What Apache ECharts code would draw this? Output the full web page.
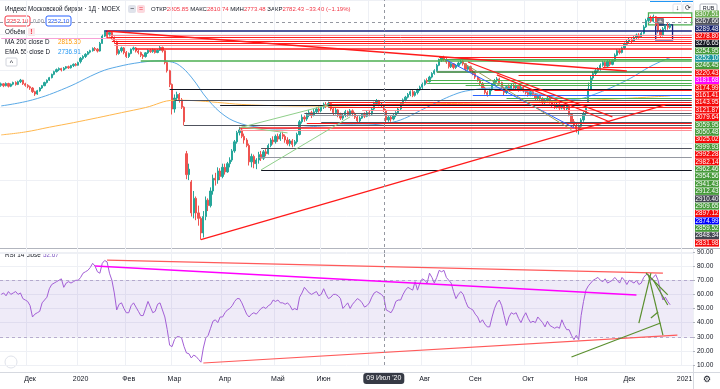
<!DOCTYPE html>
<html><head><meta charset="utf-8">
<script src="https://cdn.jsdelivr.net/npm/echarts@6/dist/echarts.min.js"></script>
<style>html,body{margin:0;padding:0;background:#fff}#c{width:720px;height:389px}</style>
</head><body><div id="c"></div>
<script>
// ---------- DATA ----------
const holidays = ['2019-11-04','2019-12-31','2020-01-01','2020-01-02','2020-01-07','2020-02-24','2020-03-09','2020-05-01','2020-05-11','2020-06-12','2020-06-24','2020-07-01','2020-11-04','2021-01-01'];
const monthNames = ['Янв','Фев','Мар','Апр','Май','Июн','Июл','Авг','Сен','Окт','Ноя','Дек'];
// candles: [open, close, low, high]
const nov19 = [[2920,2928,2912,2935],[2928,2918,2910,2932],[2918,2930,2914,2936],[2930,2915,2908,2934],[2915,2926,2910,2930],[2926,2935,2920,2940],[2935,2925,2918,2942],[2925,2940,2921,2945],[2940,2948,2932,2955],[2948,2928,2922,2950],[2928,2920,2912,2934],[2920,2912,2904,2926]];
const dec19 = [[2912,2905,2895,2918],[2905,2885,2878,2910],[2885,2872,2862,2890],[2872,2890,2868,2895],[2890,2905,2885,2910],[2905,2918,2900,2922],[2918,2935,2915,2940],[2935,2948,2930,2952],[2948,2962,2944,2966],[2962,2980,2958,2984],[2980,2995,2975,3000],[2995,3006,2990,3012],[3006,3012,2998,3018],[3012,3004,2996,3016],[3004,3014,3000,3020],[3014,3022,3008,3026],[3022,3016,3010,3028],[3016,3028,3012,3032],[3028,3035,3020,3040],[3035,3030,3024,3042],[3030,3045,3028,3050]];
const jan20 = [[3050,3068,3040,3075],[3068,3078,3060,3085],[3078,3090,3070,3096],[3090,3102,3085,3108],[3102,3110,3095,3115],[3110,3122,3105,3128],[3122,3118,3108,3130],[3118,3108,3100,3124],[3108,3150,3105,3158],[3150,3190,3148,3198],[3190,3212,3185,3222],[3212,3200,3190,3220],[3200,3208,3188,3215],[3208,3182,3172,3210],[3182,3160,3150,3188],[3160,3095,3085,3165],[3095,3110,3088,3118],[3110,3125,3100,3132],[3125,3100,3090,3130],[3100,3078,3070,3108]];
const feb20 = [[3078,3095,3070,3100],[3095,3118,3090,3122],[3118,3125,3110,3132],[3125,3108,3100,3130],[3108,3100,3090,3115],[3100,3085,3075,3105],[3085,3078,3065,3092],[3078,3098,3072,3102],[3098,3112,3092,3118],[3112,3105,3098,3120],[3105,3115,3098,3122],[3115,3100,3094,3120],[3100,3112,3096,3118],[3112,3128,3108,3135],[3128,3110,3100,3132],[3110,3045,3035,3112],[3045,3000,2990,3050],[3000,2925,2910,3005],[2925,2790,2760,2930]];
const mar20 = [[2790,2850,2770,2870],[2850,2870,2835,2885],[2870,2840,2825,2878],[2840,2800,2790,2850],[2800,2720,2700,2805],[2545,2430,2405,2560],[2430,2460,2400,2490],[2390,2220,2200,2400],[2220,2300,2190,2340],[2300,2220,2180,2310],[2220,2190,2150,2260],[2190,2110,2073,2200],[2110,2200,2085,2230],[2200,2290,2180,2310],[2290,2260,2230,2300],[2260,2340,2250,2360],[2340,2410,2320,2430],[2410,2400,2370,2440],[2400,2450,2380,2470],[2450,2420,2400,2465],[2420,2470,2410,2490]];
const apr20 = [[2470,2445,2430,2490],[2445,2490,2440,2500],[2490,2510,2470,2525],[2510,2560,2500,2570],[2560,2610,2550,2620],[2610,2660,2600,2670],[2660,2675,2645,2692],[2675,2640,2630,2685],[2640,2620,2600,2655],[2620,2590,2580,2630],[2590,2500,2480,2600],[2500,2530,2470,2545],[2530,2490,2465,2540],[2490,2510,2460,2520],[2510,2540,2490,2555],[2540,2520,2505,2560],[2520,2555,2510,2565],[2555,2545,2530,2570],[2545,2590,2540,2600],[2590,2620,2580,2630],[2620,2610,2595,2640],[2610,2640,2600,2650]];
const may20 = [[2640,2625,2610,2655],[2625,2650,2615,2662],[2650,2640,2625,2665],[2640,2620,2605,2650],[2620,2600,2590,2635],[2600,2615,2585,2625],[2615,2595,2580,2625],[2595,2610,2585,2620],[2610,2650,2600,2660],[2650,2720,2645,2730],[2720,2745,2710,2760],[2745,2735,2720,2755],[2735,2760,2725,2770],[2760,2770,2745,2785],[2770,2755,2740,2780],[2755,2775,2750,2790],[2775,2790,2765,2800],[2790,2780,2770,2805],[2780,2800,2772,2810]];
const jun20 = [[2800,2815,2790,2825],[2815,2805,2795,2828],[2805,2820,2798,2830],[2820,2790,2780,2825],[2790,2770,2755,2800],[2770,2785,2760,2795],[2785,2760,2745,2790],[2760,2740,2730,2770],[2740,2755,2730,2765],[2755,2775,2745,2785],[2775,2760,2748,2782],[2760,2780,2752,2790],[2780,2765,2750,2788],[2765,2745,2735,2772],[2745,2725,2712,2755],[2725,2740,2718,2750],[2740,2760,2735,2768],[2760,2750,2740,2772],[2750,2770,2745,2780],[2770,2762,2750,2785]];
const jul20 = [[2762,2790,2755,2798],[2790,2820,2785,2830],[2820,2835,2810,2845],[2835,2815,2805,2840],[2815,2815.83,2800,2828],[2805.85,2782.43,2773.48,2810.74],[2782,2730,2710,2790],[2730,2745,2720,2755],[2745,2735,2720,2752],[2735,2755,2728,2762],[2755,2770,2745,2778],[2770,2790,2762,2800],[2790,2820,2785,2828],[2820,2840,2812,2848],[2840,2855,2832,2862],[2855,2870,2848,2878],[2870,2885,2860,2892],[2885,2865,2855,2895],[2865,2880,2858,2888],[2880,2895,2870,2902],[2895,2910,2888,2918],[2910,2925,2900,2935]];
const aug20 = [[2925,2945,2918,2952],[2945,2940,2930,2958],[2940,2965,2935,2972],[2965,2985,2958,2992],[2985,3000,2978,3008],[3000,3030,2995,3038],[3030,3058,3025,3066],[3058,3072,3048,3080],[3072,3062,3052,3082],[3062,3048,3038,3070],[3048,3022,3012,3052],[3022,3038,3015,3045],[3038,3018,3008,3042],[3018,3028,3010,3036],[3028,3042,3022,3050],[3042,3052,3035,3060],[3052,3038,3028,3058],[3038,3008,2998,3042],[3008,3022,3000,3030],[3022,2998,2988,3028],[2998,2985,2975,3005]];
const sep20 = [[2985,2965,2955,2995],[2965,2950,2940,2972],[2950,2930,2920,2958],[2930,2905,2895,2938],[2905,2880,2870,2912],[2880,2870,2858,2890],[2870,2895,2862,2902],[2895,2925,2888,2932],[2925,2945,2918,2955],[2945,2955,2935,2965],[2955,2935,2925,2962],[2935,2905,2895,2940],[2905,2880,2865,2912],[2880,2912,2872,2920],[2912,2900,2890,2925],[2900,2920,2895,2930],[2920,2905,2895,2932],[2905,2915,2898,2925],[2915,2895,2885,2922],[2895,2910,2888,2918],[2910,2890,2880,2915],[2890,2880,2870,2898]];
const oct20 = [[2880,2870,2858,2890],[2870,2885,2860,2895],[2885,2870,2860,2895],[2870,2850,2838,2878],[2850,2860,2840,2870],[2860,2845,2832,2868],[2845,2825,2815,2855],[2825,2840,2818,2848],[2840,2850,2830,2862],[2850,2830,2820,2858],[2830,2810,2800,2838],[2810,2800,2790,2822],[2800,2815,2792,2825],[2815,2795,2785,2822],[2795,2808,2788,2815],[2808,2790,2780,2815],[2790,2805,2782,2812],[2805,2760,2750,2808],[2760,2720,2710,2765],[2720,2700,2685,2735],[2700,2680,2660,2715],[2680,2695,2650,2705]];
const nov20 = [[2695,2730,2685,2740],[2730,2765,2720,2775],[2765,2800,2755,2810],[2830,2900,2825,2935],[2900,2960,2895,2975],[2960,2985,2950,2995],[2985,3000,2975,3010],[3000,3010,2990,3020],[3010,3030,3000,3040],[3030,3045,3022,3055],[3045,3025,3015,3055],[3025,3050,3018,3058],[3050,3035,3025,3062],[3035,3055,3030,3065],[3055,3085,3050,3095],[3085,3110,3080,3118],[3110,3100,3090,3120],[3100,3125,3095,3132],[3125,3145,3118,3155],[3145,3160,3140,3170]];
const dec20 = [[3160,3172,3152,3180],[3172,3162,3152,3184],[3162,3182,3157,3190],[3182,3196,3174,3204],[3196,3186,3176,3206],[3186,3205,3180,3212],[3205,3240,3200,3250],[3240,3275,3235,3285],[3275,3290,3268,3300],[3290,3272,3262,3302],[3272,3296,3265,3308],[3296,3255,3245,3300],[3255,3220,3205,3262],[3220,3195,3185,3230],[3195,3230,3188,3240],[3230,3245,3220,3255],[3245,3238,3225,3262],[3238,3252.1,3230,3260]];
const rsiValues = [60,61,59,62,60,61,62,60,61,57,56,55, 52,44,46,47,48, 54,56,58, 64,67,68,69,70,71,65, 68,69,68,69,70,70,
 72,75,76,77,79,82,80,76,75, 82,84,83,75,70,61, 49,53,54,50,47,47, 52,54,51,48,45,45,50, 55,51,47,48,53,54,49,44,
 35,24,23,28,30,30,29,23, 18.5,18,15,17,16,14,12,22, 29,31,36,41,42,40,44,44,
 47,49,50,52,55,57,57,54,50,46, 44,46,47,46,48,50,51,50,52,53, 56,55,56,54,54,53,54,52,49,50,49,
 58,61,65,63,61,60,61,62,59,60, 64,60,57,58,60,60,59,57,50,52,54,50,53,55,57, 56,54,51,52,54,
 58,61,62,61,60, 58,49,48,47,50, 55,56,56,60,63, 65,64,63,69,63,68,71,
 70,68,75,72,68,72, 77,76,77,72,70,68,62, 57,60,62,60,55,51,50,49,
 46,44,40,42,39,37,37, 44,50,54,56,52,45,38, 44,47,46,47,43,40,44,47,
 43,40,41,40,44,42,40,37,41, 38,37,36,37,36,42,38,35,35,31, 28,31,28,
 45,55,63,66,68,70,71, 72,70,69,71,68,69,70,72, 70,68,72,70,67,
 70,69,68,70,67,68, 72,74,74,70,72,74, 70,62,56,58,55,52.67];
// moving averages read at sample bars: [barIndex, value]
const ma200Points = [[0,2648],[10,2664],[20,2690],[30,2715],[40,2742],[50,2770],[60,2798],[72,2838],[80,2836],[90,2826],[100,2815],[115,2808],[130,2806],[145,2808],[159,2815],[175,2818],[195,2822],[215,2827],[235,2833],[255,2845],[278,2862]];
const ema55Points = [[0,2807],[13,2840],[27,2906],[41,2993],[48,3021],[58,3046],[66,3054],[70,3050],[74,3030],[79,2965],[86,2840],[93,2752],[100,2708],[107,2690],[114,2680],[121,2684],[128,2692],[135,2698],[145,2703],[150,2702],[159,2710],[166,2730],[177,2800],[188,2868],[195,2893],[207,2906],[216,2892],[227,2862],[238,2843],[246,2868],[260,2948],[270,3025],[278,3072]];
// price-scale labels (stacked order, top to bottom) and their colour keys
const priceLabels = ['3307.51','3267.66','3289.48','3278.80','3276.65','3254.95','3252.10','3246.45','3220.43','3181.68','3174.99','3161.41','3143.95','3121.87','3079.64','3059.95','3050.48','3025.02','2999.93','2992.28','2982.14','2962.46','2954.56','2941.43','2912.43','2910.40','2909.65','2897.12','2874.99','2859.52','2848.34','2831.98'];
const priceLabelKeys = ['lg','c','n','r','k','g','t','g','r','m','r','r','r','r','r','g','g','r','g','r','r','g','g','g','g','d','g','r','b','g','d','r'];
// drawn horizontal levels: [startBar, price, colour, width]
const levelLines = [[43,3220,'n',1.5],[45,3196,'p',1],[45,3185,'r',1],[46,3174,'p',1],[46,3163,'r',1],[47,3152,'r',1],[47,3141,'p',1],[56,3119,'r',1.5],
 [182,3076,'r',1],[182,3065,'g',1],[58,3054,'g',1.5],[250,3021,'r',1],[181,2993,'dg',1.5],[215,2977,'r',1],[177,2950,'g',1],[177,2933,'g',1],[193,2922,'g',1],
 [70,2900,'k',1],[205,2893,'r',1],[196,2867,'b',1],[210,2851,'g',1],[72,2840,'d',1],[136,2829,'r',1],[136,2818,'r',1],[91,2813,'k',1],[136,2802,'r',1],
 [150,2785,'p',1],[126,2769,'d',1],[127,2758,'gr',1],[133,2719,'d',1],[127,2714,'r',1],[76,2703,'d',1],[99,2687,'r',1.5],[99,2676,'p',1],
 [108,2577,'d',1],[107,2528,'gr',1],[108,2456,'k',1],[269,3295,'r',1]];
const shortLevels = [[0,44,3180,'pk',1]];
// drawn trend lines: [bar1, price1, bar2, price2, colour, width]
const trendLines = [[44,3218,260,2999,'r',1.5],[83,2073,276,2813,'r',1.2],[194,3048,254,2747,'r',1.2],[206,2977,253,2719,'r',1.2],
 [185,3059,238,2687,'b',1],[192,3043,237,2676,'o',1],[99,2687,136,2813,'lg2',1],[108,2456,145,2747,'lg2',1],[100,2692,119,2659,'lg2',1]];
// rectangles: [bar1, price1, bar2, price2, colour]
const boxes = [[269,3317,287,3251,'g'],[272,3251,279,3169,'n'],[44,3213,46,3180,'r']];
// RSI drawings
const rsiLines = [[44,84.3,275,75.1,'rs',1.2],[39,80.1,264,59.6,'m',1.5],[84,11.4,281,31.2,'rs',1.2],
 [237,15.7,274,39.7,'gg',1.2],[265,39.7,270,75.1,'gg',1.2],[269,73.7,275,31.2,'gg',1.2],[268,75.1,277,59.6,'gg',1.2],[271,70.2,277,52.5,'gg',1.2],[270,43.3,273,47.5,'gg',1.2]];
const crossBar = 159, crossPrice = 3267.66, crossLabel = "09 Июл '20";
const titleText = 'Индекс Московской биржи · 1Д · MOEX';
const ohlcNames = ['ОТКР','МАКС','МИН','ЗАКР'];
const lastPriceText = '3252.10', spreadText = '0.00';
const volumeText = 'Объём';
const maLegend = ['MA 200 close D','2815.30'];
const emaLegend = ['EMA 55 close D','2736.91'];
const rsiLegend = ['RSI 14 close','52.67'];

// ---------- BUILD ----------
const dates = [];
let dt = new Date(Date.UTC(2019,10,14));
while (dates.length < 288) {
  const wd = dt.getUTCDay(), s = dt.toISOString().slice(0,10);
  if (wd !== 0 && wd !== 6 && holidays.indexOf(s) < 0) dates.push(s);
  dt = new Date(dt.getTime() + 86400000);
}
const lastIdx = dates.length - 1;
const candles = [].concat(nov19,dec19,jan20,feb20,mar20,apr20,may20,jun20,jul20,aug20,sep20,oct20,nov20,dec20);
const isMonthStart = i => i > 0 && i < dates.length && dates[i].slice(5,7) !== dates[i-1].slice(5,7);
const monthLabel = v => { if (typeof v !== 'string') return ''; const m = +v.slice(5,7); return m === 1 ? v.slice(0,4) : monthNames[m-1]; };

const col = {r:'#ff1a1a', p:'#ff8f97', pk:'#f7a1d8', g:'#4caf50', dg:'#2e7d32', k:'#131722', d:'#50535e', gr:'#9598a1', n:'#1a237e', b:'#2962ff', t:'#26a69a', m:'#ff00ff', o:'#9e9d5a', lg2:'#8fcf8a', rs:'#ff5a5a', gg:'#5a8f2e'};
const labelBg = {lg:'#6fae55', g:'#469a3a', c:'#50535e', n:'#16216b', r:'#f50a0a', k:'#131722', t:'#1e9aa0', m:'#ff00ff', b:'#0000ff', d:'#434651'};

const mainLines = [];
levelLines.forEach(([s,p,c,w]) => mainLines.push([{coord:[s,p], lineStyle:{color:col[c], width:w}}, {coord:[lastIdx,p]}]));
shortLevels.forEach(([s,e,p,c,w]) => mainLines.push([{coord:[s,p], lineStyle:{color:col[c], width:w}}, {coord:[e,p]}]));
trendLines.forEach(([a,p1,b,p2,c,w]) => mainLines.push([{coord:[a,p1], lineStyle:{color:col[c], width:w}}, {coord:[b,p2]}]));
const mainAreas = boxes.map(([a,p1,b,p2,c]) => [{coord:[a,p1], itemStyle:{color:'rgba(0,0,0,0)', borderColor:col[c], borderWidth:1.3}}, {coord:[b,p2]}]);
const rsiMarks = [{yAxis:70, lineStyle:{color:'#a99bc4', type:[3,3], width:0.8}}, {yAxis:30, lineStyle:{color:'#a99bc4', type:[3,3], width:0.8}}];
rsiLines.forEach(([a,r1,b,r2,c,w]) => rsiMarks.push([{coord:[a,r1], lineStyle:{color:col[c], width:w, type:'solid'}}, {coord:[b,r2]}]));

const F = 'Liberation Sans';
const rich = {};
Object.keys(labelBg).forEach(k => rich[k] = {backgroundColor:labelBg[k], color:'#fff', width:24, height:7, lineHeight:7, fontSize:6.3, align:'center', fontFamily:F});

const font = s => s + 'px "' + F + '"';
const c159 = candles[crossBar], prevC = candles[crossBar-1][1];
const chg = c159[1] - prevC;
const sgn = chg < 0 ? '−' : '+';
const ohlcText = '{n|' + ohlcNames[0] + '}{v|' + c159[0].toFixed(2) + ' }{n|' + ohlcNames[1] + '}{v|' + c159[3].toFixed(2) + ' }{n|' + ohlcNames[2] + '}{v|' + c159[2].toFixed(2) + ' }{n|' + ohlcNames[3] + '}{v|' + c159[1].toFixed(2) + ' ' + sgn + Math.abs(chg).toFixed(2) + ' (' + sgn + Math.abs(chg/prevC*100).toFixed(2) + '%)}';

const graphics = [
  {type:'line', shape:{x1:0,y1:248.5,x2:720,y2:248.5}, style:{stroke:'#b2b5be', lineWidth:1}},
  {type:'line', shape:{x1:0,y1:372.5,x2:720,y2:372.5}, style:{stroke:'#d6d9e0', lineWidth:1}},
  {type:'line', shape:{x1:693.5,y1:0,x2:693.5,y2:389}, style:{stroke:'#d6d9e0', lineWidth:1}},
  {type:'rect', shape:{x:650,y:0,width:43,height:2}, style:{fill:'#2196f3'}},
  {type:'text', x:5, y:9, style:{text:titleText, fill:'#131722', font:font(6.3), verticalAlign:'middle'}},
  {type:'rect', shape:{x:128,y:5,width:8,height:8,r:2}, style:{fill:'#e0e3eb'}},
  {type:'text', x:132, y:9, style:{text:'−', fill:'#131722', font:font(7), align:'center', verticalAlign:'middle'}},
  {type:'rect', shape:{x:137,y:5,width:8,height:8,r:2}, style:{fill:'#fcd9de'}},
  {type:'text', x:141, y:9, style:{text:'=', fill:'#f23645', font:font(7), align:'center', verticalAlign:'middle'}},
  {type:'text', x:151, y:9, style:{text:ohlcText, verticalAlign:'middle', rich:{n:{fill:'#131722', font:font(6)}, v:{fill:'#f23645', font:font(6)}}}},
  {type:'rect', shape:{x:5,y:16,width:25,height:10,r:2}, style:{fill:'#fff', stroke:'#f23645', lineWidth:1}},
  {type:'text', x:17.5, y:21, style:{text:lastPriceText, fill:'#f23645', font:font(6), align:'center', verticalAlign:'middle'}},
  {type:'text', x:33, y:21, style:{text:spreadText, fill:'#787b86', font:font(5.5), verticalAlign:'middle'}},
  {type:'rect', shape:{x:46,y:16,width:25,height:10,r:2}, style:{fill:'#fff', stroke:'#2962ff', lineWidth:1}},
  {type:'text', x:58.5, y:21, style:{text:lastPriceText, fill:'#2962ff', font:font(6), align:'center', verticalAlign:'middle'}},
  {type:'text', x:5, y:32, style:{text:volumeText, fill:'#131722', font:font(6.3), verticalAlign:'middle'}},
  {type:'rect', shape:{x:28,y:28,width:7,height:8,r:1}, style:{fill:'#fde3e6'}},
  {type:'text', x:31.5, y:32, style:{text:'!', fill:'#f23645', font:'bold ' + font(7), align:'center', verticalAlign:'middle'}},
  {type:'text', x:5, y:42, style:{text:maLegend[0], fill:'#131722', font:font(6.3), verticalAlign:'middle'}},
  {type:'text', x:58, y:42, style:{text:maLegend[1], fill:'#ff9800', font:font(6.3), verticalAlign:'middle'}},
  {type:'text', x:5, y:52, style:{text:emaLegend[0], fill:'#131722', font:font(6.3), verticalAlign:'middle'}},
  {type:'text', x:58, y:52, style:{text:emaLegend[1], fill:'#2196f3', font:font(6.3), verticalAlign:'middle'}},
  {type:'rect', shape:{x:6,y:58,width:11,height:8,r:1}, style:{fill:'#fff', stroke:'#d1d4dc', lineWidth:1}},
  {type:'text', x:11.5, y:63, style:{text:'^', fill:'#131722', font:font(7), align:'center', verticalAlign:'middle'}},
  {type:'text', x:5, y:255, style:{text:rsiLegend[0], fill:'#131722', font:font(6.3), verticalAlign:'middle'}},
  {type:'text', x:43, y:255, style:{text:rsiLegend[1], fill:'#7e57c2', font:font(6.3), verticalAlign:'middle'}},
  {type:'rect', shape:{x:656,y:18,width:8,height:8,r:1}, style:{fill:'#787b86'}},
  {type:'text', x:660, y:22, style:{text:'+', fill:'#fff', font:font(8), align:'center', verticalAlign:'middle'}},
  {type:'rect', shape:{x:673,y:4,width:9,height:9,r:1}, style:{fill:'#fff', stroke:'#e0e3eb'}},
  {type:'text', x:677.5, y:8.5, style:{text:'↓', fill:'#131722', font:font(7), align:'center', verticalAlign:'middle'}},
  {type:'rect', shape:{x:683,y:4,width:9,height:9,r:1}, style:{fill:'#fff', stroke:'#e0e3eb'}},
  {type:'text', x:687.5, y:8.5, style:{text:'⟳', fill:'#131722', font:font(7), align:'center', verticalAlign:'middle'}},
  {type:'rect', shape:{x:700,y:4,width:17,height:9,r:1}, style:{fill:'#fff', stroke:'#b2b5be'}},
  {type:'text', x:708.5, y:8.5, style:{text:'RUB', fill:'#131722', font:font(5.5), align:'center', verticalAlign:'middle'}},
  {type:'circle', shape:{cx:11,cy:362,r:6}, style:{fill:'#fff', stroke:'#e0e3eb'}},
  {type:'text', x:707, y:380, style:{text:'⚙', fill:'#131722', font:'9px "DejaVu Sans"', align:'center', verticalAlign:'middle'}}
];

const catAxis = (grid, showLabels) => ({
  type:'category', gridIndex:grid, data:dates, boundaryGap:true,
  axisLine:{show:false}, axisTick:{show:false},
  axisLabel:{show:showLabels, interval:(i)=>isMonthStart(i), formatter:monthLabel, color:'#131722', fontSize:7, fontFamily:F, margin:11},
  splitLine:{show:true, interval:(i)=>isMonthStart(i+1), lineStyle:{color:'#eef0f5', width:1}},
  axisPointer:{show:true, type:'line', value:crossBar, status:'show', snap:false,
    lineStyle:{color:'#9598a1', type:[3,3], width:1},
    label:{show:showLabels, formatter:()=>crossLabel, backgroundColor:'#363a45', color:'#fff', fontSize:7, fontFamily:F, padding:[2,3], margin:8}}
});

const option = {
  animation:false,
  backgroundColor:'#ffffff',
  axisPointer:{triggerOn:'none'},
  grid:[
    {left:0, top:0, width:693, height:253, outerBoundsMode:'none'},
    {left:0, top:252, width:693, height:113, outerBoundsMode:'none'},
    {left:693, top:10.3, width:1, height:236.5, outerBoundsMode:'none'}
  ],
  xAxis:[catAxis(0,false), catAxis(1,true), {type:'value', gridIndex:2, show:false}],
  yAxis:[
    {type:'value', gridIndex:0, position:'right', min:2000, max:3388, interval:200, axisLabel:{show:false}, axisLine:{show:false}, axisTick:{show:false},
      splitLine:{show:true, lineStyle:{color:'#eef0f5'}},
      axisPointer:{show:true, type:'line', value:crossPrice, status:'show', lineStyle:{color:'#9598a1', type:[3,3], width:1}, label:{show:false}}},
    {type:'value', gridIndex:1, position:'right', min:10, max:90, interval:10,
      axisLabel:{formatter:v=>v.toFixed(2), color:'#131722', fontSize:6.5, fontFamily:F, margin:4},
      axisLine:{show:false}, axisTick:{show:true, length:2, lineStyle:{color:'#b2b5be'}}, splitLine:{show:true, lineStyle:{color:'#eef0f5'}}},
    {type:'category', gridIndex:2, position:'right', inverse:true, data:priceLabels, axisLine:{show:false}, axisTick:{show:false}, splitLine:{show:false},
      axisLabel:{interval:0, margin:1, formatter:(v,i)=>'{' + priceLabelKeys[i] + '|' + v + '}', rich:rich}}
  ],
  series:[
    {type:'candlestick', name:'MOEX', xAxisIndex:0, yAxisIndex:0, data:candles, barWidth:'72%', z:2,
      itemStyle:{color:'#26a69a', color0:'#ef5350', borderColor:'#26a69a', borderColor0:'#ef5350', borderWidth:1},
      markLine:{symbol:['none','none'], silent:true, animation:false, label:{show:false}, emphasis:{disabled:true}, lineStyle:{type:'solid'}, data:mainLines},
      markArea:{silent:true, label:{show:false}, emphasis:{disabled:true}, data:mainAreas}},
    {type:'line', name:'MA200', xAxisIndex:0, yAxisIndex:0, data:ma200Points, smooth:0.4, showSymbol:false, symbol:'none', z:3, lineStyle:{color:'#ffb74d', width:1}},
    {type:'line', name:'EMA55', xAxisIndex:0, yAxisIndex:0, data:ema55Points, smooth:0.4, showSymbol:false, symbol:'none', z:3, lineStyle:{color:'#5aa9e6', width:1}},
    {type:'line', name:'RSI', xAxisIndex:1, yAxisIndex:1, data:rsiValues, showSymbol:false, symbol:'none', z:3, lineStyle:{color:'#a35fd6', width:1},
      markArea:{silent:true, itemStyle:{color:'rgba(126,87,194,0.12)'}, label:{show:false}, data:[[{yAxis:30},{yAxis:70}]]},
      markLine:{symbol:['none','none'], silent:true, animation:false, label:{show:false}, emphasis:{disabled:true}, data:rsiMarks}},
    {type:'scatter', xAxisIndex:2, yAxisIndex:2, data:[], silent:true}
  ],
  graphic:graphics
};
const chart = echarts.init(document.getElementById('c'), null, {renderer:'canvas'});
chart.setOption(option);
</script></body></html>
